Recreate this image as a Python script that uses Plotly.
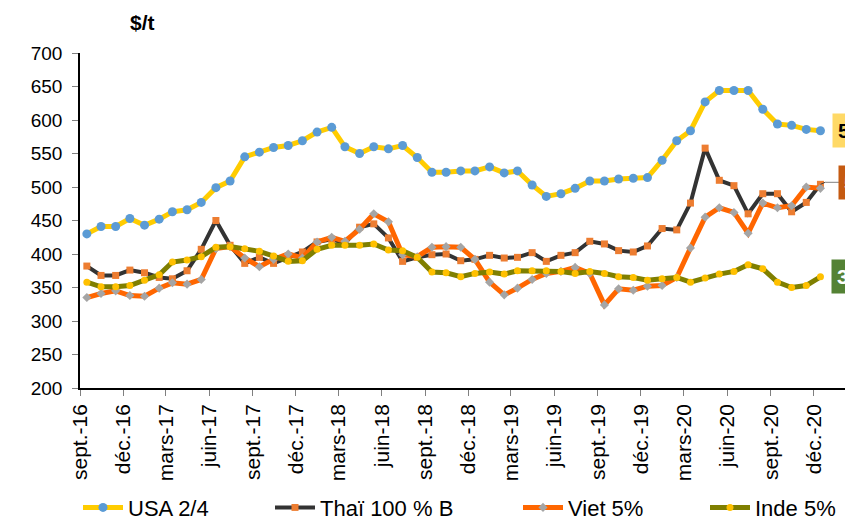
import pandas as pd
import plotly.graph_objects as go

# ---- data (monthly, sept. 2016 -> déc. 2020, $/t) ----
months = pd.date_range("2016-09-01", "2020-12-01", freq="MS")
dates = months + pd.Timedelta(days=14)

usa = [430, 441, 441, 453, 443, 452, 463, 466, 477, 499, 509, 545, 552, 559, 562, 569, 582, 589,
       560, 550, 560, 557, 562, 544, 522, 522, 524, 524, 530, 521, 524, 503, 486, 490, 498, 509,
       509, 512, 513, 514, 540, 569, 584, 627, 644, 644, 644, 616, 594, 592, 586, 584]
thai = [382, 368, 368, 376, 372, 365, 363, 375, 407, 450, 413, 386, 395, 386, 395, 403, 418, 422,
        416, 440, 445, 424, 389, 395, 399, 400, 390, 392, 398, 394, 395, 402, 389, 398, 402, 419,
        415, 405, 403, 412, 438, 436, 476, 558, 510, 502, 460, 490, 490, 463, 477, 504]
viet = [335, 341, 345, 338, 337, 349, 357, 355, 362, 408, 411, 394, 381, 392, 400, 394, 418, 425,
        419, 437, 460, 448, 399, 396, 410, 411, 410, 392, 358, 339, 349, 362, 371, 374, 380, 371,
        324, 348, 346, 352, 353, 365, 409, 455, 469, 462, 431, 476, 469, 472, 500, 498]
inde = [358, 351, 351, 353, 361, 369, 388, 391, 396, 410, 411, 408, 404, 397, 389, 390, 407, 413,
        413, 413, 415, 406, 405, 395, 373, 372, 366, 371, 373, 370, 375, 375, 375, 374, 371, 374,
        371, 366, 365, 361, 363, 365, 358, 364, 370, 374, 384, 378, 358, 350, 353, 366]

series_names = ["USA 2/4", "Thaï 100 % B", "Viet 5%", "Inde 5%"]
tick_dates = pd.date_range("2016-09-01", "2020-12-01", freq="3MS")
tick_labels = ["sept.-16", "déc.-16", "mars-17", "juin-17", "sept.-17", "déc.-17", "mars-18",
               "juin-18", "sept.-18", "déc.-18", "mars-19", "juin-19", "sept.-19", "déc.-19",
               "mars-20", "juin-20", "sept.-20", "déc.-20"]

FONT = "Liberation Sans, Arial, sans-serif"

fig = go.Figure()
styles = [
    dict(values=usa, line="#FFCC00", lw=5, mcolor="#5B9BD5", sym="circle", ms=9, leg="legend"),
    dict(values=thai, line="#333333", lw=4, mcolor="#ED7D31", sym="square", ms=7, leg="legend2"),
    dict(values=viet, line="#FF6600", lw=5, mcolor="#A5A5A5", sym="diamond", ms=7, leg="legend3"),
    dict(values=inde, line="#7F7F00", lw=5, mcolor="#FFC000", sym="circle", ms=7, leg="legend4"),
]
for name, s in zip(series_names, styles):
    fig.add_trace(go.Scatter(
        x=dates, y=s["values"], name=name, mode="lines+markers",
        line=dict(color=s["line"], width=s["lw"]),
        marker=dict(color=s["mcolor"], symbol=s["sym"], size=s["ms"], line=dict(width=0)),
        legend=s["leg"],
    ))

px_per_day = 0.47268
x0 = pd.Timestamp("2016-08-31 12:00")
x1 = x0 + pd.Timedelta(days=765 / px_per_day)


def px(sx):
    """screen x inside the plot area (80..845) -> paper fraction"""
    return (sx - 80) / 765


leg_common = dict(orientation="h", yanchor="middle", y=-0.357, xanchor="left",
                  font=dict(family=FONT, size=22, color="black"), bgcolor="rgba(0,0,0,0)",
                  itemwidth=40)
fig.update_layout(
    width=845, height=520,
    margin=dict(l=80, r=0, t=53, b=132, autoexpand=False),
    paper_bgcolor="white", plot_bgcolor="white",
    font=dict(family=FONT, size=18, color="black"),
    showlegend=True,
    legend=dict(leg_common, x=px(78)),
    legend2=dict(leg_common, x=px(270)),
    legend3=dict(leg_common, x=px(518)),
    legend4=dict(leg_common, x=px(705)),
    xaxis=dict(
        type="date", range=[x0, x1], tickmode="array", tickvals=tick_dates, ticktext=tick_labels,
        tickangle=-90, ticks="outside", ticklen=6, tickcolor="#808080", automargin=False,
        showline=True, linecolor="black", linewidth=1.5, showgrid=False, zeroline=False,
        tickfont=dict(family=FONT, size=21, color="black"),
    ),
    yaxis=dict(
        range=[200, 700], dtick=50, ticks="outside", ticklen=6, tickcolor="#808080",
        showline=True, linecolor="black", linewidth=1.5, showgrid=False, zeroline=False,
        automargin=False,
        tickfont=dict(family=FONT, size=19, color="black"), ticklabelstandoff=6,
    ),
    annotations=[
        dict(text="<b>$/t</b>", xref="paper", yref="paper", x=px(128), y=1.091,
             xanchor="left", yanchor="middle", showarrow=False,
             font=dict(family=FONT, size=21, color="black")),
        dict(text=f"<b>{usa[-1]}</b>", xref="paper", yref="y", x=px(832), y=usa[-1],
             xanchor="left", yanchor="middle", showarrow=False, bgcolor="#FFD966", borderpad=5,
             font=dict(family=FONT, size=21, color="black")),
        dict(text=f"<b>{thai[-1]}</b>", xref="paper", yref="y", x=px(838), y=thai[-1] + 3,
             xanchor="left", yanchor="middle", showarrow=False, bgcolor="#C55A11", borderpad=5,
             font=dict(family=FONT, size=21, color="white")),
        dict(text=f"<b>{inde[-1]}</b>", xref="paper", yref="y", x=px(831), y=inde[-1],
             xanchor="left", yanchor="middle", showarrow=False, bgcolor="#548235", borderpad=5,
             font=dict(family=FONT, size=21, color="white")),
    ],
    shapes=[
        dict(type="line", xref="x", yref="y", x0=dates[-1], y0=thai[-1],
             x1=dates[-1] + pd.Timedelta(days=10), y1=thai[-1] + 3,
             line=dict(color="#404040", width=1)),
        dict(type="line", xref="x", yref="y", x0=dates[-1] + pd.Timedelta(days=10), y0=thai[-1] + 3,
             x1=x1, y1=thai[-1] + 3, line=dict(color="#808080", width=1)),
    ],
)

# remove the default page margin so the 845x520 figure fills the window exactly
fig.write_html(
    "out.html",
    config={"displayModeBar": False},
    post_script="document.body.style.margin='0';document.documentElement.style.overflow='hidden';",
)
